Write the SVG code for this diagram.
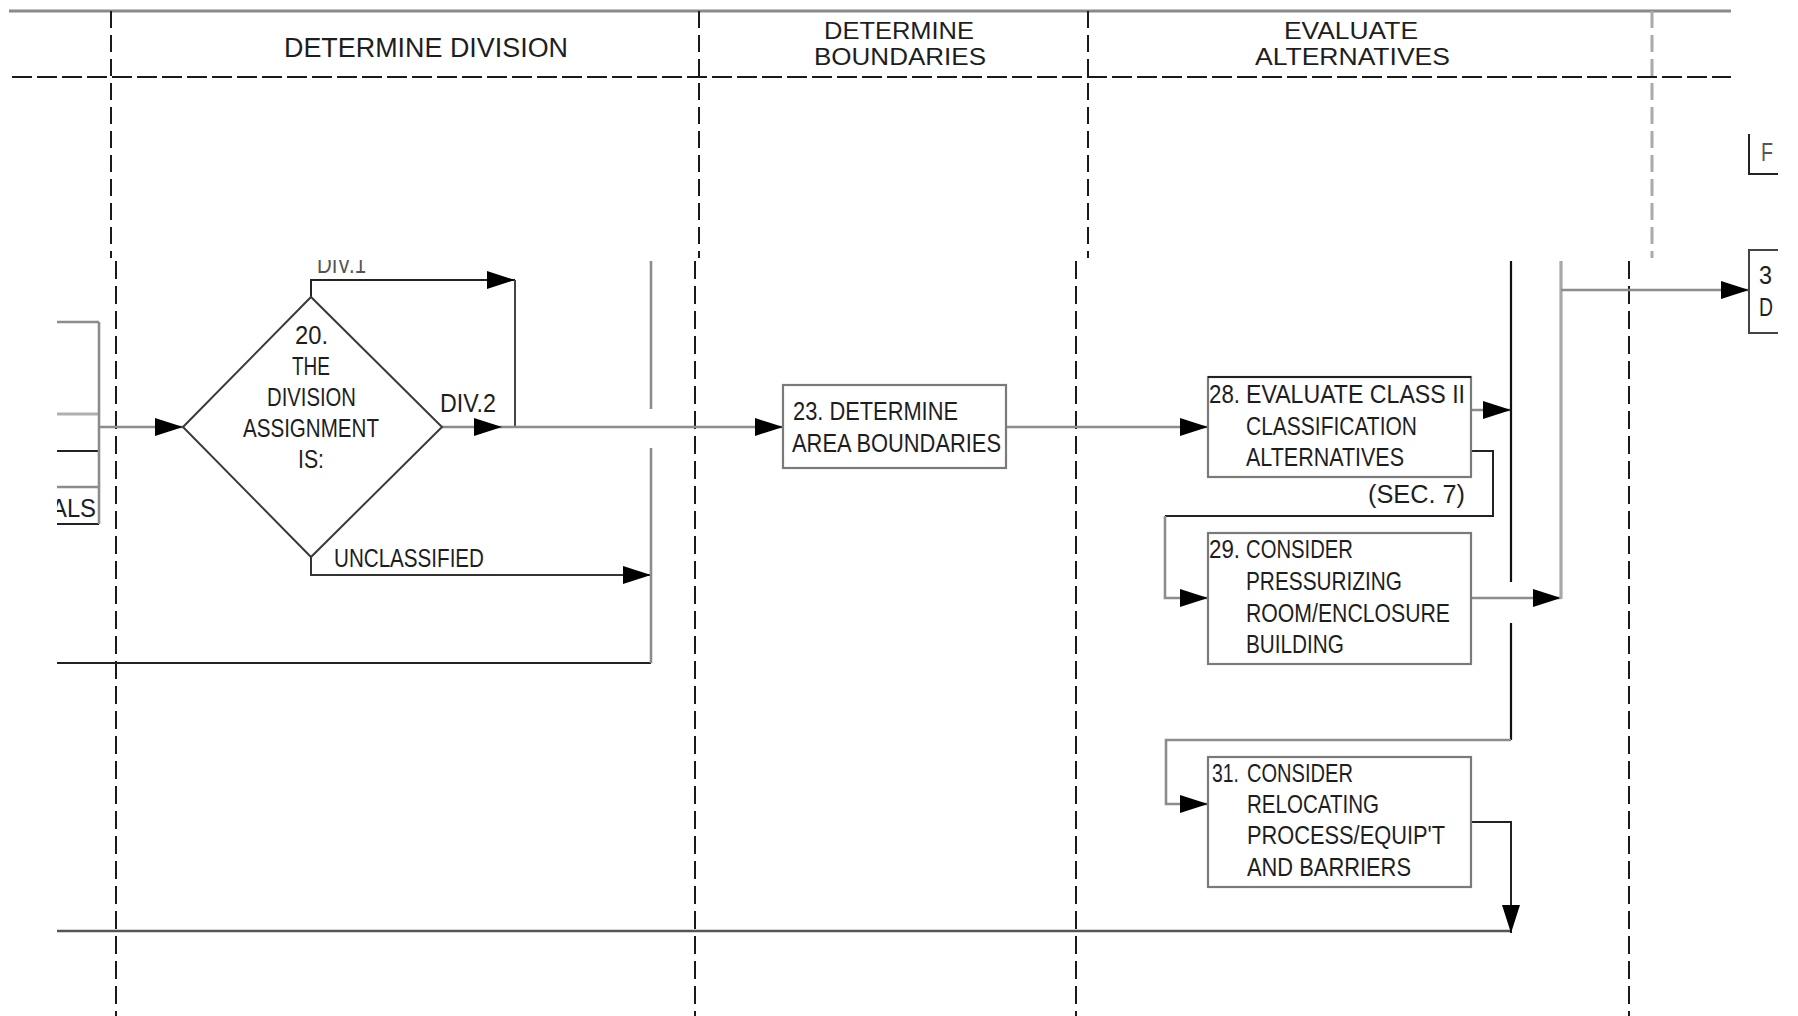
<svg xmlns="http://www.w3.org/2000/svg" width="1798" height="1016" viewBox="0 0 1798 1016">
<style>
text{font-family:"Liberation Sans Narrow","Liberation Sans",Arial,sans-serif;font-size:26px;fill:#1e1e1e}
.h{font-size:27px}
.h2{font-size:23px}
.lg{fill:#555}
.box{fill:none;stroke:#7a7a7a;stroke-width:2.2}
.dk{fill:none;stroke:#222;stroke-width:2}
.gr{fill:none;stroke:#8c8c8c;stroke-width:2.6}
.lgr{fill:none;stroke:#a8a8a8;stroke-width:3.2}
.dh{fill:none;stroke:#1a1a1a;stroke-width:2.2;stroke-dasharray:20 5}
.dv{fill:none;stroke:#1a1a1a;stroke-width:2;stroke-dasharray:17 7}
.dvl{fill:none;stroke:#1a1a1a;stroke-width:2;stroke-dasharray:18 7}
.dvg{fill:none;stroke:#aaaaaa;stroke-width:3;stroke-dasharray:17 7}
</style>
<defs>
<marker id="ah" markerUnits="userSpaceOnUse" markerWidth="28" markerHeight="20" refX="28" refY="10" orient="auto">
<path d="M0,1 L28,10 L0,19 Z" fill="#000"/>
</marker>
<clipPath id="lower"><rect x="57" y="260" width="1741" height="756"/></clipPath>
<clipPath id="right"><rect x="0" y="0" width="1778" height="1016"/></clipPath>
</defs>

<g id="header">
<line x1="9" y1="11" x2="1731" y2="11" stroke="#8a8a8a" stroke-width="3"/>
<line x1="12" y1="77" x2="1731" y2="77" class="dh"/>
<line x1="111" y1="11" x2="111" y2="258" class="dv"/>
<line x1="699" y1="11" x2="699" y2="258" class="dv"/>
<line x1="1088" y1="11" x2="1088" y2="258" class="dv"/>
<line x1="1652" y1="11" x2="1652" y2="258" class="dvg"/>
<text class="h" x="284" y="57" textLength="284" lengthAdjust="spacingAndGlyphs">DETERMINE DIVISION</text>
<text class="h2" x="824" y="39" textLength="150" lengthAdjust="spacingAndGlyphs">DETERMINE</text>
<text class="h2" x="814" y="65" textLength="172" lengthAdjust="spacingAndGlyphs">BOUNDARIES</text>
<text class="h2" x="1284" y="39" textLength="134" lengthAdjust="spacingAndGlyphs">EVALUATE</text>
<text class="h2" x="1255" y="65" textLength="195" lengthAdjust="spacingAndGlyphs">ALTERNATIVES</text>
</g>

<g id="lanes-lower">
<line x1="116" y1="261" x2="116" y2="1016" class="dvl"/>
<line x1="695" y1="261" x2="695" y2="1016" class="dvl"/>
<line x1="1076" y1="261" x2="1076" y2="1016" class="dvl"/>
<line x1="1629" y1="261" x2="1629" y2="1016" class="dvl"/>
</g>

<g id="connectors">
<g clip-path="url(#lower)">
<line x1="50" y1="322" x2="99" y2="322" class="gr"/>
<line x1="50" y1="414" x2="99" y2="414" stroke="#b0b0b0" stroke-width="3"/>
<line x1="50" y1="451" x2="99" y2="451" class="dk"/>
<line x1="50" y1="487" x2="99" y2="487" class="gr"/>
<line x1="50" y1="524" x2="99" y2="524" class="dk"/>
<line x1="99" y1="322" x2="99" y2="524" class="gr"/>
<line x1="50" y1="663" x2="651" y2="663" class="dk"/>
<line x1="50" y1="931" x2="1511" y2="931" stroke="#555" stroke-width="2.4"/>
</g>
<line x1="99" y1="427" x2="183" y2="427" class="gr" marker-end="url(#ah)"/>
<polyline points="311,297 311,280 515,280" class="dk" marker-end="url(#ah)"/>
<line x1="515" y1="280" x2="515" y2="427" stroke="#444" stroke-width="2"/>
<line x1="442" y1="427" x2="502" y2="427" class="gr" marker-end="url(#ah)"/>
<line x1="502" y1="427" x2="783" y2="427" class="gr" marker-end="url(#ah)"/>
<polyline points="311,557 311,575 651,575" stroke="#333" stroke-width="2" fill="none" marker-end="url(#ah)"/>
<line x1="651" y1="261" x2="651" y2="409" class="gr"/>
<line x1="651" y1="448" x2="651" y2="663" class="gr"/>
<line x1="1006" y1="427" x2="1208" y2="427" class="gr" marker-end="url(#ah)"/>
<line x1="1471" y1="410" x2="1511" y2="410" class="gr" marker-end="url(#ah)"/>
<polyline points="1471,451 1493,451 1493,516 1165,516" class="dk"/>
<polyline points="1165,516 1165,598 1208,598" class="gr" marker-end="url(#ah)"/>
<line x1="1511" y1="261" x2="1511" y2="582" stroke="#111" stroke-width="2.2"/>
<line x1="1511" y1="623" x2="1511" y2="740" stroke="#111" stroke-width="2.2"/>
<polyline points="1511,740 1166,740 1166,804 1208,804" class="gr" marker-end="url(#ah)"/>
<line x1="1471" y1="598" x2="1561" y2="598" class="gr" marker-end="url(#ah)"/>
<line x1="1561" y1="261" x2="1561" y2="599" class="lgr"/>
<line x1="1561" y1="290" x2="1749" y2="290" class="gr" marker-end="url(#ah)"/>
<polyline points="1471,822 1511,822 1511,933" class="dk" marker-end="url(#ah)"/>
</g>

<g id="left-stub">
<text x="51" y="517" textLength="45" lengthAdjust="spacingAndGlyphs" clip-path="url(#lower)">ALS</text>
</g>

<g id="n20">
<polygon points="183,427 311,297 442,427 311,557" fill="none" stroke="#3a3a3a" stroke-width="2"/>
<text x="295" y="344" textLength="33" lengthAdjust="spacingAndGlyphs">20.</text>
<text x="292" y="375" textLength="38" lengthAdjust="spacingAndGlyphs">THE</text>
<text x="267" y="406" textLength="89" lengthAdjust="spacingAndGlyphs">DIVISION</text>
<text x="243" y="437" textLength="136" lengthAdjust="spacingAndGlyphs">ASSIGNMENT</text>
<text x="298" y="468" textLength="26" lengthAdjust="spacingAndGlyphs">IS:</text>
</g>

<g id="labels">
<text class="lg" x="317" y="273" textLength="49" lengthAdjust="spacingAndGlyphs" clip-path="url(#lower)">DIV.1</text>
<text x="440" y="412" textLength="56" lengthAdjust="spacingAndGlyphs">DIV.2</text>
<text x="334" y="567" textLength="150" lengthAdjust="spacingAndGlyphs">UNCLASSIFIED</text>
</g>

<g id="n23">
<rect x="783" y="385" width="223" height="83" class="box"/>
<text x="793" y="420" textLength="165" lengthAdjust="spacingAndGlyphs">23. DETERMINE</text>
<text x="792" y="452" textLength="209" lengthAdjust="spacingAndGlyphs">AREA BOUNDARIES</text>
</g>

<g id="n28">
<rect x="1208" y="377" width="263" height="100" class="box"/>
<line x1="1208" y1="377" x2="1471" y2="377" stroke="#222" stroke-width="2"/>
<text x="1209" y="403" textLength="31" lengthAdjust="spacingAndGlyphs">28.</text>
<text x="1246" y="403" textLength="219" lengthAdjust="spacingAndGlyphs">EVALUATE CLASS II</text>
<text x="1246" y="435" textLength="171" lengthAdjust="spacingAndGlyphs">CLASSIFICATION</text>
<text x="1246" y="466" textLength="158" lengthAdjust="spacingAndGlyphs">ALTERNATIVES</text>
<text x="1368" y="503" textLength="97" lengthAdjust="spacingAndGlyphs">(SEC. 7)</text>
</g>

<g id="n29">
<rect x="1208" y="533" width="263" height="131" class="box"/>
<text x="1209" y="558" textLength="31" lengthAdjust="spacingAndGlyphs">29.</text>
<text x="1246" y="558" textLength="107" lengthAdjust="spacingAndGlyphs">CONSIDER</text>
<text x="1246" y="590" textLength="156" lengthAdjust="spacingAndGlyphs">PRESSURIZING</text>
<text x="1246" y="622" textLength="204" lengthAdjust="spacingAndGlyphs">ROOM/ENCLOSURE</text>
<text x="1246" y="653" textLength="98" lengthAdjust="spacingAndGlyphs">BUILDING</text>
</g>

<g id="n31">
<rect x="1208" y="757" width="263" height="130" class="box"/>
<text x="1212" y="782" textLength="27" lengthAdjust="spacingAndGlyphs">31.</text>
<text x="1247" y="782" textLength="106" lengthAdjust="spacingAndGlyphs">CONSIDER</text>
<text x="1247" y="813" textLength="132" lengthAdjust="spacingAndGlyphs">RELOCATING</text>
<text x="1247" y="844" textLength="198" lengthAdjust="spacingAndGlyphs">PROCESS/EQUIP'T</text>
<text x="1247" y="876" textLength="164" lengthAdjust="spacingAndGlyphs">AND BARRIERS</text>
</g>

<g id="nF" clip-path="url(#right)">
<polyline points="1749,134 1749,174 1778,174" fill="none" stroke="#222" stroke-width="2"/>
<text class="lg" x="1761" y="161" textLength="12" lengthAdjust="spacingAndGlyphs">F</text>
</g>

<g id="n3x" clip-path="url(#right)">
<polyline points="1778,250 1749,250 1749,333 1778,333" fill="none" stroke="#444" stroke-width="2"/>
<text x="1759" y="284" textLength="13" lengthAdjust="spacingAndGlyphs">3</text>
<text x="1759" y="316" textLength="14" lengthAdjust="spacingAndGlyphs">D</text>
</g>
</svg>
